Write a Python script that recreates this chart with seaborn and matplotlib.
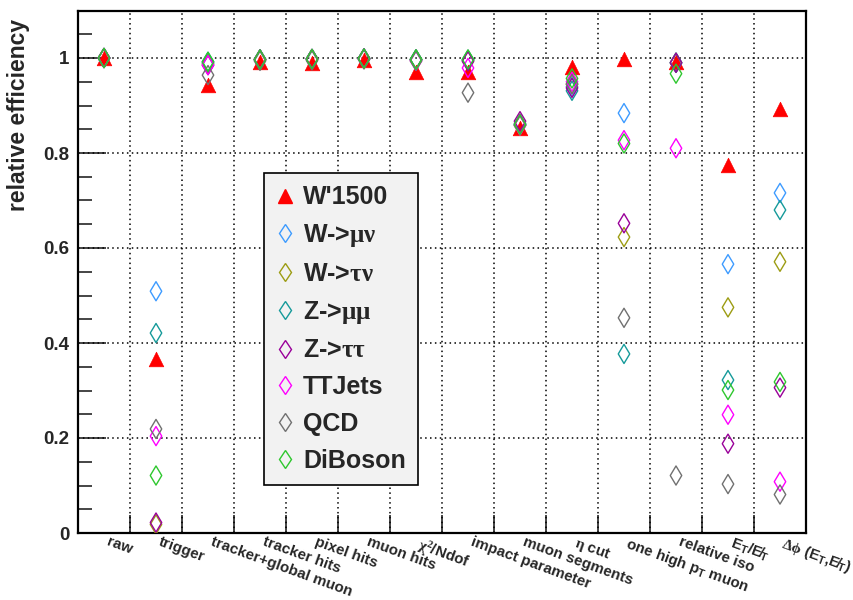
import numpy as np
import pandas as pd
import seaborn as sns
import matplotlib
matplotlib.use("Agg")
import matplotlib.pyplot as plt
from matplotlib.lines import Line2D
from matplotlib.ticker import FixedLocator
import matplotlib.transforms as mtransforms

# selection steps (x axis)
steps = ["raw", "trigger", "tracker+global muon", "tracker hits", "pixel hits",
         "muon hits", r"$\mathrm{\chi}^{2}$/Ndof", "impact parameter", "muon segments",
         r"$\mathrm{\eta}$ cut", r"one high p$_{\mathsf{T}}$ muon", "relative iso",
         "E$_{\\mathsf{T}}$/E\u0338$_{\\mathsf{T}}$",
         "$\\mathrm{\\Delta\\phi}$ (E$_{\\mathsf{T}}$,E\u0338$_{\\mathsf{T}}$)"]

# relative efficiency of each step, per sample
eff_wprime = [1.000, 0.366, 0.943, 0.992, 0.990, 0.995, 0.971, 0.970, 0.853, 0.982, 0.997, 0.992, 0.775, 0.893]
eff_wmunu  = [1.000, 0.509, 0.990, 0.997, 0.998, 0.999, 0.997, 0.996, 0.860, 0.940, 0.884, 0.990, 0.566, 0.716]
eff_wtaunu = [1.000, 0.018, 0.988, 0.997, 0.998, 0.999, 0.997, 0.995, 0.858, 0.945, 0.623, 0.990, 0.475, 0.571]
eff_zmumu  = [1.000, 0.421, 0.992, 0.997, 0.998, 0.999, 0.997, 0.996, 0.860, 0.931, 0.377, 0.990, 0.322, 0.680]
eff_ztautau= [1.000, 0.022, 0.985, 0.997, 0.998, 0.999, 0.996, 0.993, 0.867, 0.937, 0.652, 0.990, 0.188, 0.306]
eff_ttjets = [1.000, 0.204, 0.985, 0.996, 0.997, 0.998, 0.994, 0.979, 0.858, 0.950, 0.827, 0.810, 0.249, 0.108]
eff_qcd    = [1.000, 0.219, 0.964, 0.994, 0.995, 0.997, 0.994, 0.927, 0.862, 0.945, 0.453, 0.121, 0.103, 0.081]
eff_diboson= [1.000, 0.121, 0.992, 0.997, 0.998, 0.999, 0.997, 0.997, 0.859, 0.957, 0.820, 0.967, 0.301, 0.318]

samples = ["W'1500", r"W->$\mathrm{\mu\nu}$", r"W->$\mathrm{\tau\nu}$", r"Z->$\mathrm{\mu\mu}$",
           r"Z->$\mathrm{\tau\tau}$", "TTJets", "QCD", "DiBoson"]
colors = ["#ff0000", "#3d9bff", "#9c9c13", "#159a9a", "#990099", "#ff00ff", "#707070", "#2ec72e"]
series = [eff_wprime, eff_wmunu, eff_wtaunu, eff_zmumu, eff_ztautau, eff_ttjets, eff_qcd, eff_diboson]

yticks = [0.0, 0.2, 0.4, 0.6, 0.8, 1.0]
ytick_labels = ["0", "0.2", "0.4", "0.6", "0.8", "1"]

df = pd.DataFrame({
    "step": np.tile(np.arange(len(steps)), len(samples)),
    "eff": np.concatenate(series),
    "sample": np.repeat(samples, len(steps)),
})

sns.set_style("white")
plt.rcParams["font.family"] = ["Liberation Sans", "DejaVu Sans"]
plt.rcParams["font.weight"] = "bold"
plt.rcParams["mathtext.fontset"] = "custom"
plt.rcParams["mathtext.rm"] = "Liberation Serif"
plt.rcParams["mathtext.it"] = "Liberation Sans:bold"
plt.rcParams["mathtext.sf"] = "Liberation Sans:bold"
plt.rcParams["mathtext.bf"] = "Liberation Sans:bold"

fig = plt.figure(figsize=(8.54, 6.0), dpi=100)
ax = fig.add_axes([78 / 854, 1 - 533 / 600, 728 / 854, 522.5 / 600])

for i, (name, col) in enumerate(zip(samples, colors)):
    sub = df[df["sample"] == name]
    if i == 0:
        sns.scatterplot(data=sub, x="step", y="eff", ax=ax, marker="^", s=110,
                        color=col, edgecolor=col, linewidth=0.5, zorder=3, legend=False)
    else:
        sns.scatterplot(data=sub, x="step", y="eff", ax=ax, marker="d", s=95,
                        facecolor="none", edgecolor=col, linewidth=1.0,
                        zorder=4 + i, legend=False)

ax.set_xlim(-0.5, len(steps) - 0.5)
ax.set_ylim(0, 1.1)
ax.set_xlabel("")
ax.set_ylabel("relative efficiency", fontsize=16.5, fontweight="bold", loc="top")
ax.yaxis.set_label_coords(-0.066, 0.984)

# y axis: labelled ticks every 0.2, minor ticks every 0.05
ax.yaxis.set_major_locator(FixedLocator(yticks))
ax.yaxis.set_minor_locator(FixedLocator(np.arange(0, 1.1001, 0.05)))
ax.set_yticklabels(ytick_labels, fontsize=13.5, fontweight="bold")
ax.tick_params(axis="y", which="major", direction="in", length=20, width=1.2, pad=6, left=True)
ax.tick_params(axis="y", which="minor", direction="in", length=10, width=1.2, left=True)

# x axis: tick marks at bin edges, labels at bin centres
ax.xaxis.set_minor_locator(FixedLocator(np.arange(len(steps) + 1) - 0.5))
ax.set_xticks(np.arange(len(steps)))
ax.set_xticklabels(steps, fontsize=10.9, fontweight="bold")
ax.tick_params(axis="x", which="major", length=0, pad=1.5)
ax.tick_params(axis="x", which="minor", direction="in", length=13, width=1.2, bottom=True)
shift = mtransforms.ScaledTranslation(5.5 / 100, 0, fig.dpi_scale_trans)
for lab in ax.get_xticklabels():
    lab.set_rotation(-20)
    lab.set_ha("left")
    lab.set_va("top")
    lab.set_rotation_mode("anchor")
    lab.set_transform(lab.get_transform() + shift)

# dotted grid at bin edges and labelled y ticks
ax.grid(False)
for xe in np.arange(1, len(steps)) - 0.5:
    ax.axvline(xe, color="black", lw=1.1, ls=(0, (1, 2.2)), zorder=1)
for ye in yticks[1:]:
    ax.axhline(ye, color="black", lw=1.1, ls=(0, (1, 2.2)), zorder=1)

for sp in ax.spines.values():
    sp.set_visible(True)
    sp.set_color("black")
    sp.set_linewidth(1.6)

handles = [Line2D([], [], ls="none", marker="^", ms=10.5, color=colors[0], mec=colors[0])]
handles += [Line2D([], [], ls="none", marker="d", ms=9.5, mfc="none", mec=c, mew=1.0)
            for c in colors[1:]]
leg = ax.legend(handles, samples, loc="upper left", bbox_to_anchor=(0.2555, 0.689),
                borderaxespad=0, frameon=True, fancybox=False, framealpha=1,
                facecolor="#f2f2f2", edgecolor="black",
                prop={"weight": "bold", "size": 18}, labelspacing=0.51,
                handlelength=0.7, handletextpad=0.36, borderpad=0.5)
leg.get_frame().set_linewidth(1.2)
leg.set_zorder(20)

fig.savefig("out.png", dpi=100, facecolor="white")
